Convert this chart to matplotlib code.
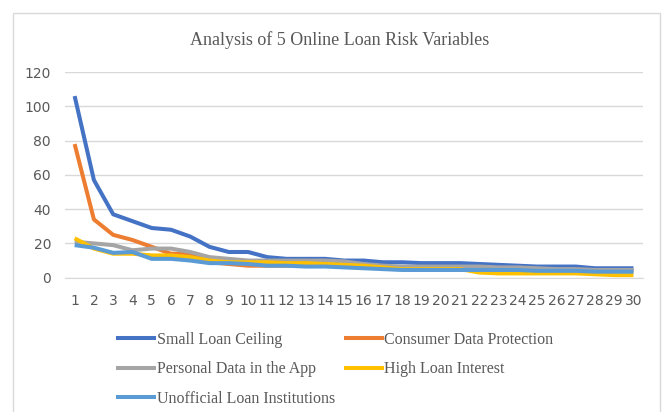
import numpy as np
import matplotlib
matplotlib.use('Agg')
import matplotlib.pyplot as plt
from matplotlib.patches import Rectangle

# data
periods = list(range(1, 31))
series_names = ['Small Loan Ceiling', 'Consumer Data Protection', 'Personal Data in the App',
                'High Loan Interest', 'Unofficial Loan Institutions']
small_loan = [106, 57, 37, 33, 29, 28, 24, 18, 15, 15, 12, 11, 11, 11, 10,
              10, 9, 9, 8.5, 8.5, 8.5, 8, 7.5, 7, 6.5, 6.5, 6.5, 5.5, 5.5, 5.5]
consumer_data = [78, 34, 25, 22, 18, 14, 14, 9, 8, 7, 7, 7, 7, 7, 7,
                 6, 6, 6, 5, 5, 5, 5, 5, 5, 5, 4, 4, 4, 4, 4]
personal_data = [21, 20, 19, 16, 17, 17, 15, 12, 11, 10, 10, 10, 10, 10, 9.5,
                 8, 7, 6.5, 6.5, 6.5, 6.5, 6.5, 6, 6, 5.5, 5, 5, 4.5, 4.5, 4.5]
high_interest = [23, 17, 14, 14, 13, 13, 12, 10, 9, 9, 9, 8.5, 8.5, 8, 7.5,
                 7, 6, 5, 5, 5, 5, 3, 2.5, 2.5, 2.5, 2.5, 2.5, 2, 1.5, 1.5]
unofficial = [19, 17.5, 14.5, 15, 11, 11, 10, 8.5, 8.5, 8, 7, 7, 6.5, 6.5, 6,
              5.5, 5, 4.5, 4.5, 4.5, 4.5, 4.5, 4.5, 4.5, 4, 4, 4, 3.5, 3.5, 3.5]
colors = ['#4472C4', '#ED7D31', '#A5A5A5', '#FFC000', '#5B9BD5']
y_ticks = [0, 20, 40, 60, 80, 100, 120]

fig = plt.figure(figsize=(6.66, 4.12), dpi=100)
ax = fig.add_axes([0.0976, 0.326, 0.868, 0.499])

lines = []
for vals, name, c in zip([small_loan, consumer_data, personal_data, high_interest, unofficial],
                         series_names, colors):
    ln, = ax.plot(periods, vals, color=c, lw=2.9, label=name, solid_capstyle='butt')
    lines.append(ln)

ax.set_xlim(0.5, 30.5)
ax.set_ylim(0, 120)
ax.set_xticks(periods)
ax.set_xticklabels([str(p) for p in periods])
ax.set_yticks(y_ticks)
ax.grid(axis='y', color='#D9D9D9', lw=1)
ax.set_axisbelow(True)
for s in ['top', 'right', 'left']:
    ax.spines[s].set_visible(False)
ax.spines['bottom'].set_color('#D9D9D9')
ax.tick_params(length=0, labelsize=10, labelcolor='#595959')
ax.tick_params(axis='x', pad=12)
ax.tick_params(axis='y', pad=10)

fig.text(0.51, 0.903, 'Analysis of 5 Online Loan Risk Variables', ha='center', va='center',
         family='Liberation Serif', fontsize=13, color='#595959')

# legend in two columns: column-first fill, so reorder entries
order = [0, 2, 4, 1, 3]
fig.legend([lines[i] for i in order], [series_names[i] for i in order],
           loc='upper left', bbox_to_anchor=(0.174, 0.195), ncol=2, frameon=False,
           prop={'family': 'Liberation Serif', 'size': 11.5}, labelcolor='#595959',
           handlelength=2.5, handletextpad=0.05, labelspacing=0.85, columnspacing=0.55,
           borderpad=0, borderaxespad=0)

# light outer chart border
fig.patches.append(Rectangle((13 / 666, -0.01), 647 / 666, 1 - 13 / 412 + 0.01,
                             transform=fig.transFigure, fill=False, edgecolor='#D9D9D9', lw=1))

fig.savefig('out.png', dpi=100)
